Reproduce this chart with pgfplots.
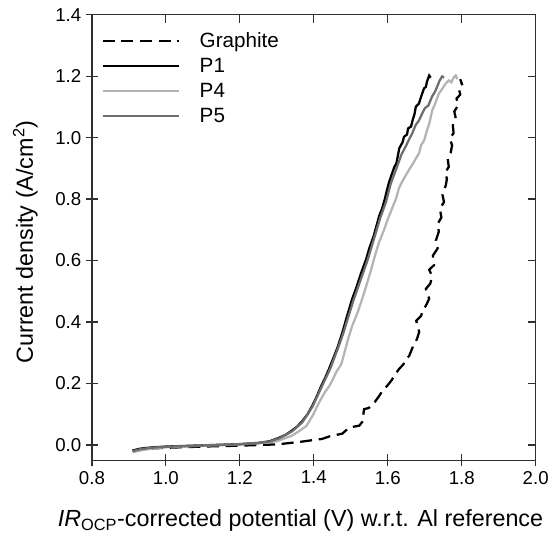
\documentclass[border=0pt]{standalone}
\usepackage{fontspec}
\setmainfont{Liberation Sans}
\usepackage{pgfplots}
\pgfplotsset{compat=1.18}
\definecolor{pfour}{HTML}{B4B4B4}
\definecolor{pfive}{HTML}{6E6E6E}
\definecolor{spine}{HTML}{303030}

\pgfplotsset{
  common/.style={
    width=333pt, height=334.5pt, scale only axis,
    xmin=0.8, xmax=2.0, ymin=-0.05, ymax=1.4,
    xtick={0.8,1.0,1.2,1.4,1.6,1.8,2.0},
    ytick={0,0.2,0.4,0.6,0.8,1.0,1.2,1.4},
    axis line style={spine, line width=0.9pt},
    tick style={spine, line width=0.9pt},
  }
}

\begin{document}
\begin{tikzpicture}
  \begin{axis}[
    common,
    xtick pos=left, ytick pos=left,
    tick align=center, major tick length=9pt,
    ticklabel style={font=\fontsize{14}{16}\selectfont},
    /pgf/number format/.cd, fixed, fixed zerofill, precision=1, assume math mode=true,
    /pgfplots/.cd,
    xlabel={\textit{IR}\textsubscript{OCP}-corrected potential (V) w.r.t. Al reference},
    ylabel={Current density (A/cm\textsuperscript{2})},
    label style={font=\fontsize{17.5}{20}\selectfont},
    xlabel style={at={(axis description cs:0.47,-0.135)}, anchor=center},
    ylabel style={at={(axis description cs:-0.15,0.49)}, anchor=center},
    legend style={at={(axis description cs:0,1)}, anchor=north west,
      xshift=4pt, yshift=-9pt, draw=none, fill=none,
      font=\fontsize{15.5}{17}\selectfont, row sep=2.6pt},
    legend cell align=left,
    legend image code/.code={\draw[#1] (0pt,0pt) -- (57pt,0pt); \path (70pt,0pt);},
  ]
    % graphite
    \addplot[black, line width=1.7pt, dash pattern=on 9pt off 5pt] coordinates {
      (0.910,-0.018) (0.950,-0.012) (1.000,-0.009) (1.100,-0.005) (1.200,-0.002)
      (1.300,0.002) (1.361,0.010) (1.423,0.020) (1.442,0.028) (1.477,0.037)
      (1.496,0.057) (1.523,0.063) (1.531,0.075) (1.536,0.117) (1.548,0.120)
      (1.555,0.128) (1.565,0.140) (1.577,0.160) (1.585,0.175) (1.598,0.192)
      (1.610,0.210) (1.620,0.230) (1.631,0.248) (1.642,0.262) (1.650,0.280)
      (1.658,0.290) (1.668,0.320) (1.679,0.345) (1.685,0.368) (1.677,0.404)
      (1.690,0.420) (1.695,0.440) (1.703,0.453) (1.712,0.476) (1.703,0.508)
      (1.715,0.525) (1.720,0.550) (1.712,0.570) (1.725,0.585) (1.722,0.616)
      (1.735,0.640) (1.730,0.665) (1.738,0.694) (1.735,0.720) (1.745,0.740)
      (1.741,0.769) (1.752,0.790) (1.748,0.815) (1.757,0.845) (1.760,0.866)
      (1.755,0.885) (1.765,0.905) (1.762,0.932) (1.770,0.950) (1.774,0.975)
      (1.768,0.997) (1.778,1.015) (1.776,1.040) (1.784,1.062) (1.780,1.085)
      (1.790,1.105) (1.786,1.127) (1.796,1.140) (1.792,1.160) (1.800,1.176)
      (1.796,1.190) (1.802,1.170)
    };
    \addlegendentry{Graphite}
    % P1
    \addplot[black, line width=1.7pt] coordinates {
      (0.910,-0.018) (0.930,-0.012) (0.960,-0.008) (1.000,-0.005) (1.050,-0.003)
      (1.100,-0.001) (1.150,0.001) (1.200,0.003) (1.250,0.007) (1.280,0.012)
      (1.307,0.024) (1.325,0.034) (1.342,0.048) (1.355,0.060) (1.369,0.078)
      (1.383,0.100) (1.396,0.128) (1.408,0.158) (1.420,0.192) (1.432,0.222)
      (1.442,0.250) (1.452,0.280) (1.465,0.320) (1.477,0.365) (1.490,0.420)
      (1.504,0.476) (1.515,0.512) (1.528,0.560) (1.542,0.606) (1.550,0.640)
      (1.562,0.680) (1.577,0.746) (1.585,0.770) (1.592,0.800) (1.598,0.830)
      (1.604,0.857) (1.612,0.885) (1.618,0.905) (1.623,0.915) (1.628,0.945)
      (1.631,0.965) (1.640,0.985) (1.644,1.003) (1.652,1.010) (1.655,1.030)
      (1.663,1.036) (1.668,1.060) (1.672,1.075) (1.676,1.101) (1.684,1.110)
      (1.688,1.125) (1.693,1.143) (1.698,1.160) (1.703,1.165) (1.706,1.182)
      (1.712,1.202) (1.716,1.195)
    };
    \addlegendentry{P1}
    % P4
    \addplot[pfour, line width=1.7pt] coordinates {
      (0.910,-0.024) (0.930,-0.018) (0.960,-0.012) (1.000,-0.007) (1.100,-0.002)
      (1.200,0.002) (1.250,0.006) (1.300,0.012) (1.340,0.030) (1.360,0.045)
      (1.380,0.062) (1.398,0.098) (1.415,0.140) (1.430,0.172) (1.442,0.192)
      (1.452,0.215) (1.461,0.238) (1.474,0.262) (1.485,0.310) (1.494,0.350)
      (1.504,0.388) (1.518,0.430) (1.531,0.476) (1.545,0.530) (1.555,0.570)
      (1.563,0.606) (1.570,0.635) (1.577,0.661) (1.590,0.700) (1.598,0.728)
      (1.604,0.746) (1.615,0.780) (1.622,0.800) (1.630,0.835) (1.639,0.857)
      (1.650,0.880) (1.660,0.900) (1.668,0.915) (1.675,0.930) (1.685,0.950)
      (1.690,0.975) (1.698,0.990) (1.706,1.023) (1.712,1.045) (1.716,1.065)
      (1.720,1.088) (1.728,1.110) (1.738,1.143) (1.748,1.160) (1.756,1.175)
      (1.765,1.186) (1.772,1.180) (1.778,1.195) (1.784,1.202) (1.788,1.190)
    };
    \addlegendentry{P4}
    % P5
    \addplot[pfive, line width=1.7pt] coordinates {
      (0.910,-0.020) (0.930,-0.014) (0.960,-0.009) (1.000,-0.006) (1.100,-0.002)
      (1.200,0.002) (1.250,0.006) (1.280,0.011) (1.307,0.022) (1.342,0.045)
      (1.369,0.074) (1.396,0.124) (1.420,0.186) (1.445,0.250) (1.470,0.330)
      (1.480,0.365) (1.507,0.470) (1.545,0.600) (1.580,0.740) (1.595,0.790)
      (1.608,0.850) (1.622,0.895) (1.637,0.945) (1.650,0.975) (1.658,0.995)
      (1.666,1.013) (1.675,1.040) (1.684,1.055) (1.693,1.078) (1.700,1.095)
      (1.710,1.105) (1.720,1.134) (1.728,1.150) (1.735,1.170) (1.740,1.185)
      (1.747,1.199) (1.752,1.195)
    };
    \addlegendentry{P5}
  \end{axis}
  \begin{axis}[
    common,
    xtick pos=right, ytick pos=right,
    tick align=inside, major tick length=6pt,
    xticklabels={}, yticklabels={},
  ]
  \end{axis}
  \pgfresetboundingbox
  \useasboundingbox (-69pt,-56pt) rectangle (343pt,345.5pt);
\end{tikzpicture}
\end{document}
